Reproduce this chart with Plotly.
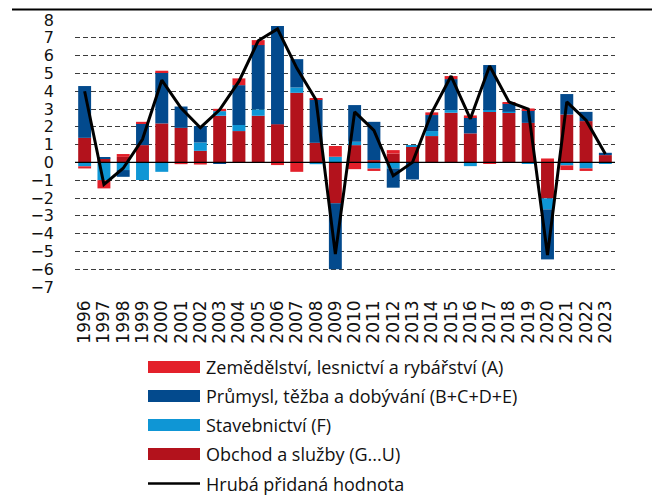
import plotly.graph_objects as go

years = [str(y) for y in range(1996, 2024)]

agri = [-0.12, -0.46, 0.16, 0.09, 0.10, -0.10, -0.12, 0.13, 0.38, 0.28,
        -0.15, -0.53, 0.06, 0.60, -0.38, -0.13, 0.19, 0.00, 0.15, 0.17,
        0.11, -0.05, 0.08, 0.09, 0.22, -0.26, -0.14, 0.00]
industry = [2.91, 0.03, -0.38, 1.22, 2.86, 1.20, 0.92, -0.05, 2.24, 3.61,
            5.51, 1.59, 2.44, -3.70, 2.06, 2.15, -1.08, -0.96, 0.90, 1.74,
            0.90, 2.53, 0.46, 0.72, -2.81, 1.15, 0.52, 0.13]
construction = [-0.22, -1.00, -0.43, -0.99, -0.53, 0.00, 0.47, 0.26, 0.34, 0.36,
                0.00, 0.30, -0.10, 0.32, 0.19, -0.35, -0.34, 0.09, 0.28, 0.15,
                -0.21, 0.10, 0.06, -0.05, -0.62, -0.17, -0.34, -0.04]
services = [1.38, 0.22, 0.31, 0.97, 2.19, 1.94, 0.65, 2.62, 1.76, 2.62,
            2.15, 3.91, 1.10, -2.30, 0.97, 0.13, 0.50, 0.88, 1.48, 2.79,
            1.63, 2.84, 2.79, 2.22, -2.02, 2.69, 2.32, 0.41]
gva = [4.00, -1.24, -0.33, 1.30, 4.62, 3.05, 1.95, 2.95, 4.55, 6.83,
       7.50, 5.30, 3.50, -5.15, 2.84, 1.80, -0.75, 0.00, 2.80, 4.85,
       2.45, 5.42, 3.40, 3.00, -5.20, 3.40, 2.37, 0.47]

names = ["Zemědělství, lesnictví a rybářství (A)",
         "Průmysl, těžba a dobývání (B+C+D+E)",
         "Stavebnictví (F)",
         "Obchod a služby (G...U)",
         "Hrubá přidaná hodnota"]
colors = ["#E3202A", "#034A8D", "#0F96D5", "#B3121C", "#000000"]

y_ticks = list(range(-7, 9))

W, H = 654, 495
L, R, T, B = 75, 39, 20, 208

def px(x):
    return (x - L) / (W - L - R)

def py(y):
    return (H - B - y) / (H - T - B)

fig = go.Figure()
# stacking order (bottom to top): services, construction, industry, agriculture
for vals, idx in [(services, 3), (construction, 2), (industry, 1), (agri, 0)]:
    fig.add_trace(go.Bar(x=years, y=vals, name=names[idx],
                         marker=dict(color=colors[idx], line=dict(width=0)),
                         showlegend=False))
fig.add_trace(go.Scatter(x=years, y=gva, name=names[4], mode="lines",
                         line=dict(color="black", width=3),
                         showlegend=False))

shapes = []
annotations = []
# zero line
shapes.append(dict(type="line", xref="paper", yref="y", x0=0, x1=1, y0=0, y1=0,
                   line=dict(color="black", width=1.3), layer="above"))
# top frame line
shapes.append(dict(type="line", xref="paper", yref="paper",
                   x0=px(12), x1=px(300), y0=py(9.5), y1=py(9.5),
                   line=dict(color="#000000", width=2), layer="above"))
shapes.append(dict(type="line", xref="paper", yref="paper",
                   x0=px(300), x1=px(652), y0=py(9.5), y1=py(9.5),
                   line=dict(color="#000000", width=2), layer="above"))

# manual legend
rows = [367, 396, 425, 454, 483.5]
for i, (name, col) in enumerate(zip(names, colors)):
    yc = rows[i]
    if i < 4:
        shapes.append(dict(type="rect", xref="paper", yref="paper",
                           x0=px(148), x1=px(200), y0=py(yc + 6), y1=py(yc - 6),
                           fillcolor=col, line=dict(width=0)))
    else:
        shapes.append(dict(type="line", xref="paper", yref="paper",
                           x0=px(148), x1=px(200), y0=py(yc), y1=py(yc),
                           line=dict(color=col, width=2.5)))
    annotations.append(dict(xref="paper", yref="paper", x=px(204), y=py(yc),
                            xanchor="left", yanchor="middle", showarrow=False,
                            text=name,
                            font=dict(family="Open Sans", size=18, color="#111111")))

fig.update_layout(
    width=W, height=H,
    margin=dict(l=L, r=R, t=T, b=B),
    paper_bgcolor="white", plot_bgcolor="white",
    barmode="relative", bargap=0.33,
    showlegend=False,
    shapes=shapes, annotations=annotations,
    xaxis=dict(type="category", tickangle=-90, showgrid=False, zeroline=False,
               showline=False, ticks="", ticklabelstandoff=9,
               tickmode="array", tickvals=years, ticktext=years,
               tickfont=dict(family="DejaVu Sans", size=17, color="#111111")),
    yaxis=dict(range=[-7, 8], tickvals=y_ticks, showgrid=True,
               gridcolor="#3c3c3c", gridwidth=1.4, griddash="5px,3px",
               zeroline=False, showline=False, ticks="", ticklabelstandoff=20,
               tickfont=dict(family="DejaVu Sans", size=16, color="#111111")),
)

fig.write_html("out.html", config={"displayModeBar": False},
               post_script="document.body.style.margin='0';")
